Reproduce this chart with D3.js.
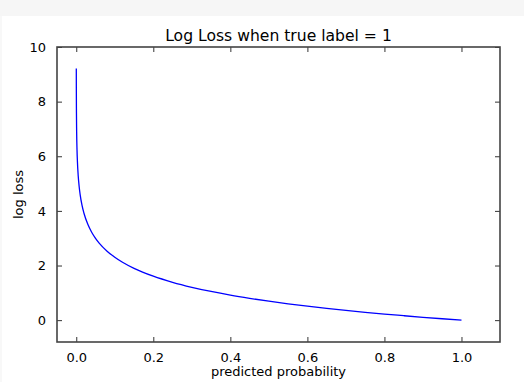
<!DOCTYPE html>
<html>
<head>
<meta charset="utf-8">
<script src="https://cdn.jsdelivr.net/npm/d3@7"></script>
<style>
  html, body { margin: 0; padding: 0; background: #ffffff; }
  svg { display: block; }
  text { font-family: "DejaVu Sans", sans-serif; fill: #000; }
</style>
</head>
<body>
<svg id="chart" width="524" height="382"></svg>
<script>
// ---- data ----
const probabilities = [0.0001, 0.0002, 0.0005, 0.001, 0.002, 0.003, 0.005, 0.0075, 0.01, 0.015,
  0.02, 0.03, 0.04, 0.05, 0.06, 0.08, 0.1, 0.12, 0.15, 0.2, 0.25, 0.3, 0.35, 0.4, 0.45,
  0.5, 0.55, 0.6, 0.65, 0.7, 0.75, 0.8, 0.85, 0.9, 0.95, 1.0];
const logLoss = [9.210, 8.517, 7.601, 6.908, 6.215, 5.809, 5.298, 4.893, 4.605, 4.200,
  3.912, 3.507, 3.219, 2.996, 2.813, 2.526, 2.303, 2.120, 1.897, 1.609, 1.386, 1.204, 1.050, 0.916, 0.799,
  0.693, 0.598, 0.511, 0.431, 0.357, 0.288, 0.223, 0.163, 0.105, 0.051, 0.000];
const xTicks = [0.0, 0.2, 0.4, 0.6, 0.8, 1.0];
const yTicks = [0, 2, 4, 6, 8, 10];
const xDomain = [-0.05, 1.1];
const yDomain = [-0.8, 10];
const titleText = "Log Loss when true label = 1";
const xLabelText = "predicted probability";
const yLabelText = "log loss";

// ---- layout ----
const svg = d3.select("#chart");
const W = 524, H = 382;
const plot = { left: 57, right: 500, top: 47, bottom: 342 };

// page background band
svg.append("rect").attr("x", 0).attr("y", 0).attr("width", W).attr("height", H).attr("fill", "#ffffff");
svg.append("rect").attr("x", 0).attr("y", 0).attr("width", W).attr("height", 16).attr("fill", "#f6f6f6");
svg.append("rect").attr("x", 0).attr("y", 16).attr("width", 2).attr("height", H - 16).attr("fill", "#f8f8f8");

const x = d3.scaleLinear().domain(xDomain).range([plot.left, plot.right]);
const y = d3.scaleLinear().domain(yDomain).range([plot.bottom, plot.top]);

const tickLen = 5;
const fontSize = 13;

// curve
const pts = probabilities.map((p, i) => [p, logLoss[i]]);
const line = d3.line().x(d => x(d[0])).y(d => y(d[1])).curve(d3.curveMonotoneX);
svg.append("path")
  .datum(pts)
  .attr("d", line)
  .attr("fill", "none")
  .attr("stroke", "#0000ff")
  .attr("stroke-width", 1.3)
  .attr("stroke-linejoin", "round")
  .attr("stroke-linecap", "butt");

// axes (ticks pointing inward on all sides)
function styleAxis(g) {
  g.select(".domain").remove();
  g.selectAll(".tick line").attr("stroke", "#333").attr("stroke-width", 1);
  g.selectAll(".tick text").style("font-family", "DejaVu Sans, sans-serif").style("font-size", fontSize + "px").attr("fill", "#000");
}

const fmtX = d3.format(".1f");
svg.append("g")
  .attr("transform", `translate(0,${plot.bottom})`)
  .call(d3.axisBottom(x).tickValues(xTicks).tickFormat(fmtX).tickSizeInner(-tickLen).tickSizeOuter(0).tickPadding(tickLen + 6))
  .call(styleAxis);
svg.append("g")
  .attr("transform", `translate(0,${plot.top})`)
  .call(d3.axisTop(x).tickValues(xTicks).tickFormat("").tickSizeInner(-tickLen).tickSizeOuter(0))
  .call(styleAxis);
svg.append("g")
  .attr("transform", `translate(${plot.left},0)`)
  .call(d3.axisLeft(y).tickValues(yTicks).tickFormat(d3.format("d")).tickSizeInner(-tickLen).tickSizeOuter(0).tickPadding(tickLen + 6))
  .call(styleAxis);
svg.append("g")
  .attr("transform", `translate(${plot.right},0)`)
  .call(d3.axisRight(y).tickValues(yTicks).tickFormat("").tickSizeInner(-tickLen).tickSizeOuter(0))
  .call(styleAxis);

// frame
svg.append("rect")
  .attr("x", plot.left).attr("y", plot.top)
  .attr("width", plot.right - plot.left).attr("height", plot.bottom - plot.top)
  .attr("fill", "none").attr("stroke", "#444").attr("stroke-width", 1.6);

// title and labels
svg.append("text")
  .attr("x", (plot.left + plot.right) / 2).attr("y", 41)
  .attr("text-anchor", "middle")
  .style("font-size", "15.6px")
  .text(titleText);
svg.append("text")
  .attr("x", (plot.left + plot.right) / 2).attr("y", 376)
  .attr("text-anchor", "middle")
  .style("font-size", fontSize + "px")
  .text(xLabelText);
svg.append("text")
  .attr("transform", `translate(23,${(plot.top + plot.bottom) / 2}) rotate(-90)`)
  .attr("text-anchor", "middle")
  .style("font-size", fontSize + "px")
  .text(yLabelText);
</script>
</body>
</html>
